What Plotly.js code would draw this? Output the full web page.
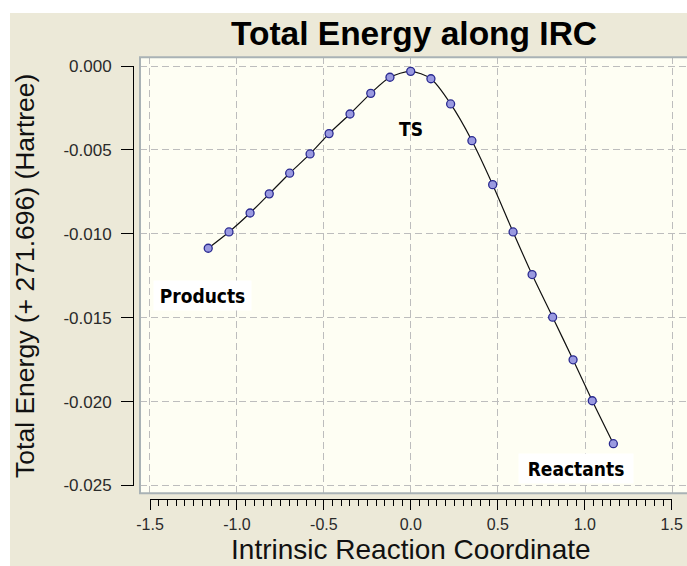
<!DOCTYPE html>
<html>
<head>
<meta charset="utf-8">
<script src="https://cdn.plot.ly/plotly-3.0.1.min.js"></script>
<style>
html,body{margin:0;padding:0;background:#ffffff;overflow:hidden;}
#chart{width:687px;height:566px;
  background: linear-gradient(#ece9d8,#ece9d8) no-repeat 10px 13px / 677px 553px, #ffffff;}
</style>
</head>
<body>
<div id="chart"></div>
<script>
// Data
const ircCoordinate = [-1.161, -1.042, -0.921, -0.811, -0.694, -0.577, -0.468, -0.348, -0.229, -0.119, 0.000,
                       0.116, 0.229, 0.351, 0.470, 0.587, 0.696, 0.814, 0.931, 1.041, 1.162];
const totalEnergy = [-0.01086, -0.00989, -0.00876, -0.00762, -0.00639, -0.00524, -0.00403, -0.00286, -0.00163, -0.00067, -0.00032,
                     -0.00076, -0.00226, -0.00445, -0.00707, -0.00989, -0.01243, -0.01497, -0.01751, -0.01995, -0.02251];
const xTickVals = [-1.5, -1.0, -0.5, 0.0, 0.5, 1.0, 1.5];
const xTickText = ["-1.5", "-1.0", "-0.5", "0.0", "0.5", "1.0", "1.5"];
const yTickVals = [0, -0.005, -0.010, -0.015, -0.020, -0.025];
const yTickText = ["0.000", "-0.005", "-0.010", "-0.015", "-0.020", "-0.025"];
const pointLabels = [
  {text: "TS", x: 0.0, y: -0.00375},
  {text: "Products", x: -1.191, y: -0.01365},
  {text: "Reactants", x: 0.948, y: -0.02396}
];

const W = 687, H = 566;
const px = v => v / W;
const py = v => 1 - v / H;

const tickFont = {family: "Liberation Sans, Arial, sans-serif", size: 17, color: "#2a2a2a"};
const xTickFont = {family: "Liberation Sans, Arial, sans-serif", size: 16, color: "#2a2a2a"};
const labelFont = {family: "Liberation Sans Narrow, DejaVu Sans Condensed, Arial Narrow, Liberation Sans, sans-serif", size: 19, color: "#000", weight: "bold"};

const trace = {
  x: ircCoordinate,
  y: totalEnergy,
  type: "scatter",
  mode: "lines+markers",
  line: {color: "#111", width: 1.2, shape: "spline", smoothing: 0.8},
  marker: {symbol: "circle", size: 8, color: "#9a9ae0", line: {color: "#2a2a90", width: 1.3}},
  xaxis: "x", yaxis: "y",
  hoverinfo: "x+y"
};
// empty helper trace so the offset ruler axes (x2 / y2) get drawn
const axisTrace = {x: [], y: [], type: "scatter", mode: "markers", xaxis: "x2", yaxis: "y2", showlegend: false, hoverinfo: "skip"};

const layout = {
  width: W, height: H,
  margin: {l: 0, r: 0, t: 0, b: 0},
  paper_bgcolor: "rgba(0,0,0,0)",
  plot_bgcolor: "rgba(0,0,0,0)",
  showlegend: false,
  title: {
    text: "Total Energy along IRC",
    x: px(414), y: py(33), xanchor: "center", yanchor: "middle",
    font: {family: "Liberation Sans, Arial, sans-serif", size: 33.5, color: "#000", weight: "bold"}
  },
  xaxis: {
    domain: [px(140), 1],
    range: [(140 - 410.7) / 174.4, (687 - 410.7) / 174.4],
    tick0: 0, dtick: 0.5,
    showgrid: true, gridcolor: "#bdbdbd", griddash: "7px,4px", gridwidth: 1,
    showticklabels: false, ticks: "", zeroline: false, showline: false,
    anchor: "y"
  },
  yaxis: {
    domain: [py(493.3), py(57.3)],
    range: [-0.025 - (493.3 - 485.5) / 16.78 * 0.001, (66 - 57.3) / 16.78 * 0.001],
    tick0: 0, dtick: 0.005,
    showgrid: true, gridcolor: "#bdbdbd", griddash: "7px,4px", gridwidth: 1,
    showticklabels: false, ticks: "", zeroline: false, showline: false,
    anchor: "x"
  },
  xaxis2: {
    domain: [px(150), px(671.7)],
    range: [-1.5, 1.5],
    anchor: "free", position: py(499.3), side: "bottom",
    showgrid: false, zeroline: false,
    showline: true, linecolor: "#000", linewidth: 1,
    ticks: "outside", ticklen: 10, tickcolor: "#000", tickwidth: 1,
    tickvals: xTickVals, ticktext: xTickText,
    minor: {dtick: 0.05, tick0: 0, ticks: "outside", ticklen: 6, tickcolor: "#000", tickwidth: 1, showgrid: false},
    tickfont: xTickFont,
    title: {text: "Intrinsic Reaction Coordinate", standoff: 7,
            font: {family: "Liberation Sans, Arial, sans-serif", size: 28, color: "#111"}}
  },
  yaxis2: {
    domain: [py(485.5), py(66)],
    range: [-0.025, 0],
    anchor: "free", position: px(133), side: "left",
    showgrid: false, zeroline: false,
    showline: true, linecolor: "#000", linewidth: 1,
    ticks: "outside", ticklen: 12, tickcolor: "#000", tickwidth: 1,
    tickvals: yTickVals, ticktext: yTickText,
    ticklabelstandoff: 6,
    tickfont: tickFont,
    title: {text: "Total Energy (+ 271.696) (Hartree)", standoff: 20,
            font: {family: "Liberation Sans, Arial, sans-serif", size: 26.5, color: "#111"}}
  },
  shapes: [
    {type: "rect", xref: "paper", yref: "paper", layer: "below",
     x0: px(140), x1: 1, y0: py(493.3), y1: py(57.3),
     fillcolor: "#fefef3", line: {width: 0}},
    {type: "rect", xref: "paper", yref: "paper", layer: "above",
     x0: px(140), x1: 1.01, y0: py(493.3), y1: py(57.3),
     line: {color: "#a9b2b5", width: 2}}
  ],
  annotations: pointLabels.map((p, i) => ({
    text: p.text, x: p.x, y: p.y, xref: "x", yref: "y",
    showarrow: false, xanchor: "center", yanchor: "middle",
    font: labelFont,
    bgcolor: i === 0 ? "rgba(0,0,0,0)" : "#ffffff",
    width: i === 0 ? null : (i === 1 ? 95 : 112),
    height: i === 0 ? null : 27
  }))
};

Plotly.newPlot("chart", [trace, axisTrace], layout, {displayModeBar: false, staticPlot: true});
</script>
</body>
</html>
